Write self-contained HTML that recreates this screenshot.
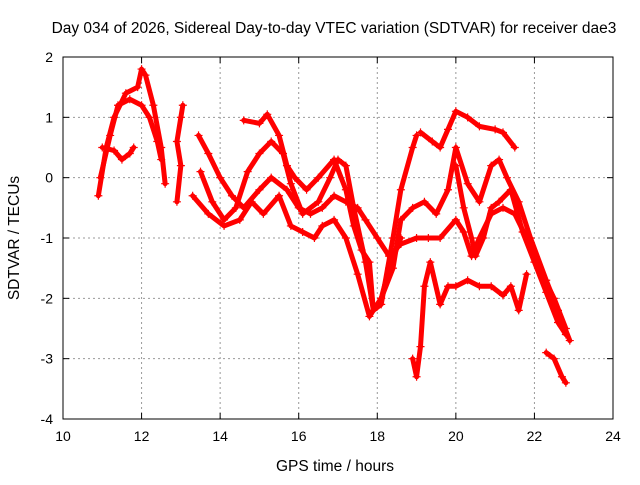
<!DOCTYPE html>
<html><head><meta charset="utf-8"><style>
body{margin:0;background:#fff}
text{font-family:"Liberation Sans",sans-serif;fill:#000}
</style></head><body>
<svg id="chart" width="640" height="480" viewBox="0 0 640 480" xmlns="http://www.w3.org/2000/svg">
<text x="334" y="33" font-size="15.5" text-anchor="middle">Day 034 of 2026, Sidereal Day-to-day VTEC variation (SDTVAR) for receiver dae3</text>
<text x="335" y="471" font-size="15.5" text-anchor="middle">GPS time / hours</text>
<text transform="translate(19,238) rotate(-90)" font-size="15.5" text-anchor="middle">SDTVAR / TECUs</text>
<g id="grid"></g><g id="ticks"></g><g id="marks"></g>
<rect x="63" y="57" width="550" height="362" fill="none" stroke="#000" stroke-width="1"/>
</svg>
<script>
const xTicks=[10,12,14,16,18,20,22,24];
const yTicks=[-4,-3,-2,-1,0,1,2];
const s1=[[10.9,-0.3],[11.1,0.5],[11.3,1.0],[11.6,1.4],[11.9,1.5],[12.0,1.8],[12.1,1.7],[12.3,1.2],[12.5,0.5],[12.6,-0.1]];
const s2=[[10.95,0],[11.2,0.7],[11.4,1.2],[11.7,1.3],[12.0,1.2],[12.2,1.0],[12.4,0.6],[12.5,0.3]];
const s3=[[11.0,0.5],[11.3,0.45],[11.5,0.3],[11.7,0.4],[11.8,0.5]];
const s4=[[12.9,-0.4],[13.0,0.2],[12.9,0.6],[13.0,1.0],[13.05,1.2]];
const s5=[[13.45,0.7],[13.7,0.4],[14.0,0.0],[14.3,-0.3],[14.6,-0.5],[15.0,-0.2],[15.3,0.0],[15.7,-0.2],[16.0,-0.5],[16.3,-0.6],[16.6,-0.5],[16.9,-0.3],[17.2,-0.4],[17.5,-0.5],[17.7,-0.7],[18.0,-1.0],[18.3,-1.3],[18.6,-1.1],[19.0,-1.0],[19.3,-1.0],[19.6,-1.0],[20.0,-0.7],[20.2,-0.9],[20.4,-1.3],[20.6,-1.0],[20.9,-0.6],[21.2,-0.5],[21.5,-0.6],[21.8,-1.0],[22.2,-1.6],[22.5,-2.0],[22.8,-2.5]];
const s6=[[19.1,0.75],[19.4,0.6],[19.6,0.5],[19.8,0.8],[20.0,1.1],[20.3,1.0],[20.6,0.85],[21.0,0.8],[21.2,0.75],[21.5,0.5]];
const s7=[[14.6,0.95],[15.0,0.9],[15.2,1.05],[15.5,0.7],[15.7,0.2],[15.9,0.0],[16.2,-0.2],[16.5,0.0],[16.9,0.3],[17.2,-0.2],[17.4,-0.8],[17.6,-1.2],[17.8,-1.4],[17.9,-2.2],[18.1,-2.0],[18.4,-1.5],[18.6,-0.7],[18.9,-0.5],[19.2,-0.4],[19.5,-0.6],[19.8,-0.2],[20.0,0.5],[20.3,-0.1],[20.6,-0.4],[20.9,0.2],[21.1,0.3],[21.3,0.0],[21.6,-0.4],[21.9,-1.0],[22.3,-1.7],[22.6,-2.2],[22.9,-2.7]];
const s8=[[13.5,0.1],[13.8,-0.4],[14.1,-0.7],[14.4,-0.5],[14.7,0.1],[15.0,0.4],[15.3,0.6],[15.6,0.4],[15.8,-0.1],[16.1,-0.6],[16.5,-0.4],[16.8,0.0],[17.0,0.3],[17.2,0.2],[17.4,-0.5],[17.7,-1.4],[17.9,-2.2],[18.1,-2.1],[18.4,-1.0],[18.6,-0.2],[18.9,0.5],[19.0,0.7]];
const s9=[[13.3,-0.3],[13.7,-0.6],[14.1,-0.8],[14.5,-0.7],[14.8,-0.4],[15.1,-0.6],[15.5,-0.3],[15.8,-0.8],[16.1,-0.9],[16.4,-1.0],[16.6,-0.8],[16.9,-0.7],[17.2,-1.0],[17.5,-1.6],[17.8,-2.3],[18.1,-2.0],[18.3,-1.5],[18.6,-1.0]];
const s10=[[18.9,-3.0],[19.0,-3.3],[19.1,-2.8],[19.2,-1.8],[19.35,-1.4],[19.6,-2.1],[19.8,-1.8],[20.0,-1.8],[20.3,-1.7],[20.6,-1.8],[20.9,-1.8],[21.2,-1.95],[21.4,-1.8],[21.6,-2.2],[21.8,-1.6]];
const s11=[[20.0,0.2],[20.2,-0.5],[20.4,-1.0],[20.5,-1.3],[20.7,-1.0],[20.9,-0.5],[21.1,-0.4],[21.4,-0.2],[21.7,-0.9],[22.0,-1.4],[22.3,-1.9],[22.6,-2.4],[22.8,-2.6]];
const s12=[[22.3,-2.9],[22.5,-3.0],[22.7,-3.3],[22.8,-3.4]];
const seriesList=[s1,s2,s3,s4,s5,s6,s7,s8,s9,s10,s11,s12];
const NS="http://www.w3.org/2000/svg";
const X=v=>63+(v-10)*550/14, Y=v=>57+(2-v)*362/6;
const grid=document.getElementById('grid'),ticks=document.getElementById('ticks'),marks=document.getElementById('marks');
function mk(t,a,p){const e=document.createElementNS(NS,t);for(const k in a)e.setAttribute(k,a[k]);p.appendChild(e);return e;}
xTicks.forEach(t=>{const x=X(t);
 if(t>10&&t<24){const g=mk('line',{x1:x,x2:x,y1:57,y2:419,stroke:'#999','stroke-dasharray':'2,3'},grid);
 
 }
 mk('line',{x1:x,x2:x,y1:419,y2:413,stroke:'#000'},ticks);mk('line',{x1:x,x2:x,y1:57,y2:63,stroke:'#000'},ticks);
 const l=mk('text',{x:x,y:441,'font-size':14,'text-anchor':'middle'},ticks);l.textContent=t;
 
 });
yTicks.forEach(t=>{const y=Y(t);
 if(t>-4&&t<2){const g=mk('line',{x1:63,x2:613,y1:y,y2:y,stroke:'#999','stroke-dasharray':'2,3'},grid);
 
 }
 mk('line',{x1:63,x2:69,y1:y,y2:y,stroke:'#000'},ticks);mk('line',{x1:613,x2:607,y1:y,y2:y,stroke:'#000'},ticks);
 const l=mk('text',{x:53,y:y+5,'font-size':14,'text-anchor':'end'},ticks);l.textContent=t;
 
 });
seriesList.forEach((s,i)=>{
 const g=mk('g',{},marks);
 
 
 mk('polyline',{points:s.map(p=>X(p[0])+','+Y(p[1])).join(' '),fill:'none',stroke:'#f00','stroke-width':5,'stroke-linejoin':'round','stroke-linecap':'round'},g);
 s.forEach(p=>{const x=X(p[0]),y=Y(p[1]);
  const m=mk('path',{d:`M${x-4},${y}H${x+4}M${x},${y-4}V${y+4}`,stroke:'#f00','stroke-width':1.2},g);
  
  });
});
</script>
</body></html>
